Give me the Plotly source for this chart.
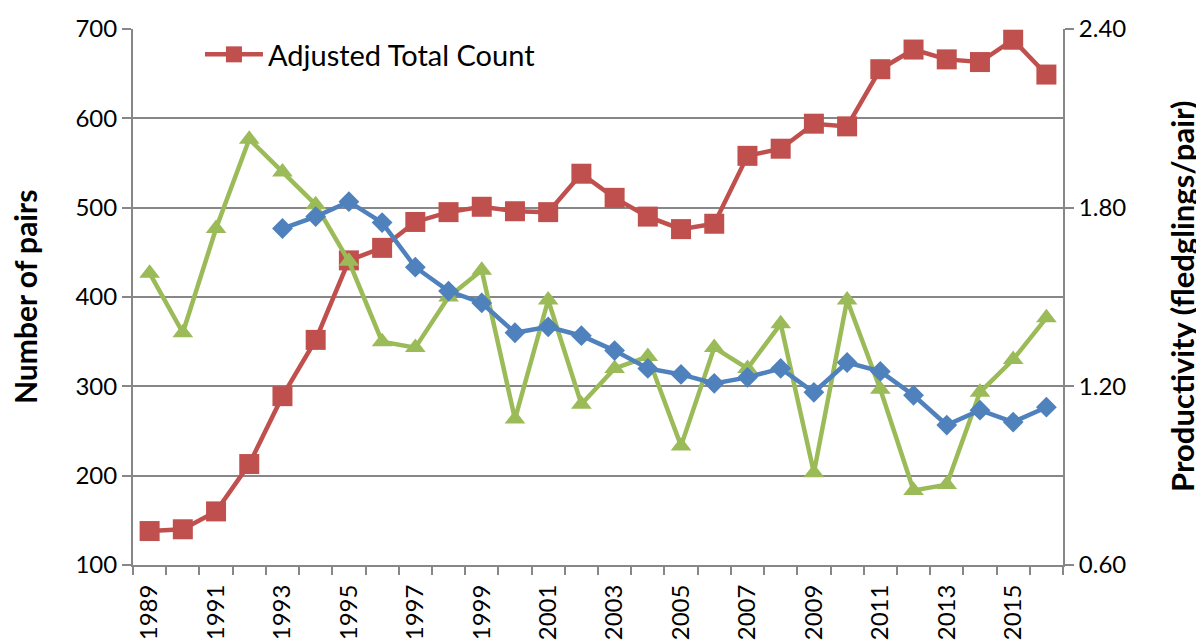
import plotly.graph_objects as go

years = list(range(1989, 2017))
adjusted_total = [138, 140, 160, 213, 289, 352, 441, 455, 484, 495, 501, 496, 495, 538,
                  511, 490, 476, 482, 558, 566, 594, 591, 655, 677, 666, 663, 688, 649]
productivity = [1.58, 1.38, 1.73, 2.03, 1.92, 1.81, 1.62, 1.35, 1.33, 1.50, 1.59, 1.09,
                1.49, 1.14, 1.26, 1.30, 1.00, 1.33, 1.26, 1.41, 0.91, 1.49, 1.19, 0.85,
                0.87, 1.18, 1.29, 1.43]
mean_years = list(range(1993, 2017))
productivity_mean = [1.73, 1.77, 1.82, 1.75, 1.60, 1.52, 1.48, 1.38, 1.40, 1.37, 1.32, 1.26,
                     1.24, 1.21, 1.23, 1.26, 1.18, 1.28, 1.25, 1.17, 1.07, 1.12, 1.08, 1.13]

left_ticks = [100, 200, 300, 400, 500, 600, 700]
right_ticks = [0.60, 1.20, 1.80, 2.40]
label_years = list(range(1989, 2017, 2))

RED = "#C0504D"
BLUE = "#4F81BD"
GREEN = "#9BBB59"
AXIS = "#878787"
FONT = "Lato"

fig = go.Figure()
fig.add_trace(go.Scatter(x=years, y=productivity, yaxis="y2", mode="lines+markers",
                         line=dict(color=GREEN, width=4.5),
                         marker=dict(symbol="triangle-up", size=18, color=GREEN),
                         showlegend=False, name="Productivity"))
fig.add_trace(go.Scatter(x=mean_years, y=productivity_mean, yaxis="y2", mode="lines+markers",
                         line=dict(color=BLUE, width=4.5),
                         marker=dict(symbol="diamond", size=16, color=BLUE),
                         showlegend=False, name="5-year mean"))
fig.add_trace(go.Scatter(x=years, y=adjusted_total, mode="lines+markers",
                         line=dict(color=RED, width=4.5),
                         marker=dict(symbol="square", size=20, color=RED),
                         name="Adjusted Total Count", showlegend=True))

# page body has an 8px margin, so the figure is offset by (8, 8)
fig.update_layout(
    width=1196, height=632,
    margin=dict(l=125, r=141, t=21, b=75, autoexpand=False),
    paper_bgcolor="white", plot_bgcolor="white",
    font=dict(family=FONT, size=24, color="black"),
    showlegend=True,
    legend=dict(x=0.072, y=1.0, xanchor="left", yanchor="top",
                bgcolor="rgba(0,0,0,0)", font=dict(size=29), itemwidth=58),
    xaxis=dict(range=[1988.5, 2016.5], tickmode="array", tickvals=label_years,
               ticktext=[str(y) for y in label_years], tickangle=-90,
               ticks="outside", ticklen=8, tickcolor="rgba(0,0,0,0)",
               showline=True, linecolor=AXIS, linewidth=2, showgrid=False, zeroline=False,
               tickfont=dict(size=24), automargin=False,
               minor=dict(tickmode="array", tickvals=[y - 0.5 for y in years] + [2016.5],
                          ticks="outside", ticklen=8, tickcolor=AXIS, tickwidth=2, showgrid=False)),
    yaxis=dict(range=[100, 700], tickmode="array", tickvals=left_ticks,
               ticks="outside", ticklen=9, tickcolor=AXIS, tickwidth=2,
               showline=True, linecolor=AXIS, linewidth=2, automargin=False,
               showgrid=True, gridcolor=AXIS, gridwidth=2, zeroline=False),
    yaxis2=dict(range=[0.6, 2.4], overlaying="y", side="right", tickmode="array",
                tickvals=right_ticks, ticktext=["%.2f" % v for v in right_ticks],
                ticks="outside", ticklen=9, tickcolor=AXIS, tickwidth=2, automargin=False,
                showline=True, linecolor=AXIS, linewidth=2, showgrid=False, zeroline=False),
    annotations=[
        dict(text="<b>Number of pairs</b>", xref="paper", yref="paper", x=0, y=0.5,
             xshift=-108, textangle=-90, showarrow=False, font=dict(size=30),
             xanchor="center", yanchor="middle"),
        dict(text="<b>Productivity (fledglings/pair)</b>", xref="paper", yref="paper", x=1, y=0.5,
             xshift=119, textangle=-90, showarrow=False, font=dict(size=31),
             xanchor="center", yanchor="middle"),
    ],
)

fig.write_html("out.html")
